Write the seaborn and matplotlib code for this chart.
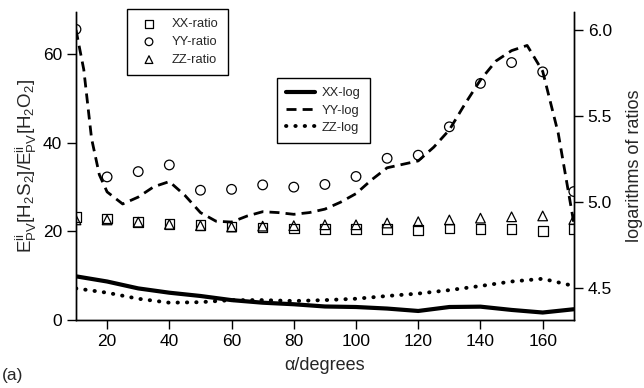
#! /usr/bin/env python3

import matplotlib as mpl
mpl.use('agg')
import matplotlib.pyplot as plt
import seaborn as sns

sns.set_style('ticks')
plt.rcParams['font.family'] = ['Liberation Sans', 'DejaVu Sans']
plt.rcParams['mathtext.fontset'] = 'custom'
plt.rcParams['mathtext.rm'] = 'Liberation Sans'
plt.rcParams['mathtext.it'] = 'Liberation Sans:italic'

# --- ratios (left axis), one point every 10 degrees
angles = [10, 20, 30, 40, 50, 60, 70, 80, 90, 100, 110, 120, 130, 140, 150, 160, 170]
xx_ratio = [23.3, 22.9, 22.2, 21.7, 21.4, 21.1, 20.9, 20.7, 20.5, 20.5, 20.5, 20.3, 20.7, 20.5, 20.5, 20.1, 20.5]
yy_ratio = [65.6, 32.3, 33.5, 35.0, 29.3, 29.5, 30.5, 30.0, 30.6, 32.4, 36.5, 37.2, 43.6, 53.4, 58.1, 56.0, 29.0]
zz_ratio = [22.6, 22.6, 22.1, 21.6, 21.3, 21.0, 21.2, 21.3, 21.5, 21.5, 21.9, 22.2, 22.6, 23.0, 23.3, 23.5, 22.7]

# --- logarithms (right axis)
xx_log = [4.57, 4.54, 4.50, 4.475, 4.456, 4.432, 4.417, 4.408, 4.395, 4.392, 4.383, 4.369, 4.392, 4.394, 4.375, 4.36, 4.379]
zz_log = [4.50, 4.475, 4.44, 4.417, 4.42, 4.432, 4.432, 4.427, 4.432, 4.44, 4.456, 4.47, 4.49, 4.514, 4.54, 4.556, 4.514]
yy_angles = [10, 12.5, 15, 17.5, 20, 25, 30, 35, 40, 45, 50, 55, 60, 65, 70, 75, 80, 85, 90, 95, 100,
             105, 110, 115, 120, 125, 130, 135, 140, 145, 150, 155, 160, 165, 170]
yy_log = [6.0, 5.77, 5.37, 5.16, 5.06, 4.99, 5.03, 5.09, 5.12, 5.04, 4.94, 4.89, 4.885, 4.92, 4.945, 4.94, 4.93,
          4.94, 4.96, 5.0, 5.05, 5.13, 5.2, 5.22, 5.24, 5.32, 5.42, 5.57, 5.71, 5.82, 5.88, 5.91, 5.76, 5.40, 4.88]


def main():
    fig = plt.figure(figsize=(6.44, 3.88), dpi=100)
    ax = fig.add_axes([0.118, 0.175, 0.773, 0.794])
    ax2 = ax.twinx()

    mk = dict(facecolor='none', edgecolor='black', linewidth=0.9, s=48, ax=ax, zorder=3)
    sns.scatterplot(x=angles, y=xx_ratio, marker='s', label='XX-ratio', **mk)
    sns.scatterplot(x=angles, y=yy_ratio, marker='o', label='YY-ratio', **mk)
    sns.scatterplot(x=angles, y=zz_ratio, marker='^', label='ZZ-ratio', **mk)

    sns.lineplot(x=angles, y=xx_log, color='black', linewidth=3.0, ax=ax2, label='XX-log')
    sns.lineplot(x=yy_angles, y=yy_log, color='black', linewidth=2.0,
                 linestyle=(0, (3.6, 2.2)), ax=ax2, label='YY-log')
    sns.lineplot(x=angles, y=zz_log, color='black', linewidth=2.8,
                 linestyle=(0, (0.1, 2.3)), dash_capstyle='round', ax=ax2, label='ZZ-log')

    ax.set_xlim(10, 170)
    ax.set_ylim(0, 69.5)
    ax2.set_ylim(4.316, 6.104)
    ax.set_xticks([20, 40, 60, 80, 100, 120, 140, 160])
    ax.set_yticks([0, 20, 40, 60])
    ax2.set_yticks([4.5, 5.0, 5.5, 6.0])
    ax2.set_yticklabels(['4.5', '5.0', '5.5', '6.0'])

    for a in (ax, ax2):
        a.spines['top'].set_visible(False)
        for s in a.spines.values():
            s.set_color('black')
            s.set_linewidth(1.0)
        a.tick_params(direction='out', length=6.5, width=1.0, colors='black', labelsize=12.5)
        a.grid(False)

    ax.set_xlabel('\u03b1/degrees', fontsize=13, labelpad=6)
    ax.set_ylabel(r'$\mathrm{E}_{\mathrm{PV}}^{\mathrm{ii}}[\mathrm{H}_2\mathrm{S}_2]/'
                  r'\mathrm{E}_{\mathrm{PV}}^{\mathrm{ii}}[\mathrm{H}_2\mathrm{O}_2]$',
                  fontsize=13.5, labelpad=3)
    ax2.set_ylabel('logarithms of ratios', fontsize=13, labelpad=10)

    leg_kw = dict(fontsize=9.3, frameon=True, fancybox=False, framealpha=1.0,
                  edgecolor='black', loc='upper left', borderaxespad=0.0)
    leg1 = ax.legend(bbox_to_anchor=(0.102, 1.01), borderpad=0.72, labelspacing=0.45,
                     handlelength=2.0, handletextpad=0.74, markerscale=0.8, **leg_kw)
    leg1.get_frame().set_linewidth(1.0)
    leg2 = ax2.legend(bbox_to_anchor=(0.404, 0.786), borderpad=0.7, labelspacing=0.42,
                      handlelength=2.25, handletextpad=0.52, **leg_kw)
    leg2.get_frame().set_linewidth(1.0)

    fig.text(0.003, 0.02, '(a)', fontsize=12.5)

    plt.savefig('out.png', dpi=100)
    plt.close(fig)


if __name__ == "__main__":
    main()
